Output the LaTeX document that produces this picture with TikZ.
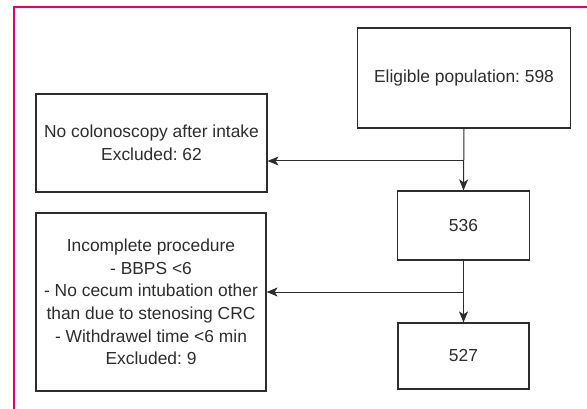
\documentclass[tikz,border=0pt]{standalone}
\usepackage{fontspec}
\setmainfont{Liberation Sans}
\usepackage{tikz}
\usetikzlibrary{arrows.meta}
\definecolor{framepink}{RGB}{226,0,114}
\definecolor{boxgray}{RGB}{45,45,45}
\frenchspacing

\begin{document}
\begin{tikzpicture}[x=1pt,y=-1pt,
    flowbox/.style={draw=boxgray,line width=1.2pt,inner sep=0pt,align=center,
      text=boxgray,font=\fontsize{17.4}{22.6}\selectfont},
    flowarrow/.style={draw=boxgray,line width=1pt,-{Stealth[length=11pt,width=9pt,inset=3pt]}}]
                \useasboundingbox (0,0) rectangle (587,409);
                \draw[framepink,line width=2pt] (14,409) -- (14,7) -- (587,7);
                \node[flowbox,minimum width=213pt,minimum height=100pt] (elig) at (464,78) {Eligible population: 598};
                \node[flowbox,minimum width=231pt,minimum height=98pt] (nocol) at (151.5,143) {No colonoscopy after intake\\Excluded: 62};
                \node[flowbox,minimum width=132pt,minimum height=69pt] (n536) at (463.5,225.5) {536};
                \node[flowbox,minimum width=230pt,minimum height=178pt] (incomp) at (151,302) {Incomplete procedure\\- BBPS <6\\- No cecum intubation other\\than due to stenosing CRC\\- Withdrawel time <6 min\\Excluded: 9};
                \node[flowbox,minimum width=131pt,minimum height=66pt] (n527) at (463.5,356) {527};
                \coordinate (split1) at (elig.south |- 0,161);
                \coordinate (split2) at (n536.south |- 0,292);
                \draw[flowarrow] (elig.south) -- (n536.north);
                \draw[flowarrow] (split1) -- (split1 -| nocol.east);
                \draw[flowarrow] (n536.south) -- (n527.north);
                \draw[flowarrow] (split2) -- (split2 -| incomp.east);
              \end{tikzpicture}
\end{document}
